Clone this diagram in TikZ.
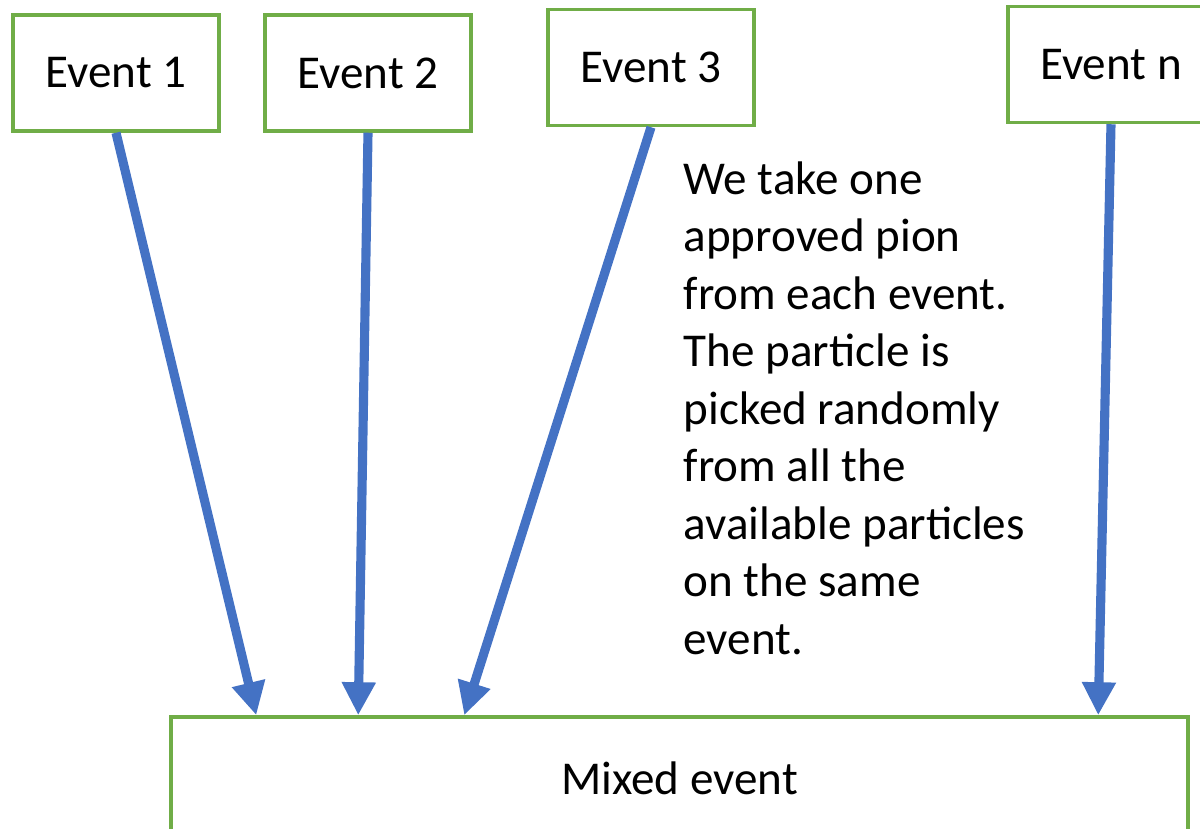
\documentclass[tikz,border=0pt]{standalone}
\usepackage{fontspec}
\setmainfont{Carlito}
\usepackage{xcolor}
\usetikzlibrary{arrows.meta}

\definecolor{boxgreen}{HTML}{70AD47}
\definecolor{arrowblue}{HTML}{4472C4}

\begin{document}
\begin{tikzpicture}[
    evbox/.style={draw=boxgreen, line width=1pt, fill=white, minimum width=2.06cm, minimum height=1.16cm, inner sep=0pt, font=\fontsize{13.4}{16}\selectfont},
    pick/.style={draw=arrowblue, line width=2.6pt, -{Triangle[length=3.3mm, width=3.2mm]}}
  ]
    \useasboundingbox (0, 0) rectangle (12, 8.29);
    \node[evbox](e1) at (1.16, 7.56) {Event 1};
    \node[evbox](e2) at (3.68, 7.56) {Event 2};
    \node[evbox](e3) at (6.51, 7.615) {Event 3};
    \node[evbox](en) at (11.11, 7.645) {Event n};
    \node[evbox, minimum width=10.17cm, minimum height=1.22cm](mix) at (6.795, 0.51) {Mixed event};
    \node[anchor=north west, inner sep=0pt, align=left, font=\fontsize{13.4}{16.35}\selectfont](note) at (6.83, 6.68) {We take one\\approved pion\\from each event.\\The particle is\\picked randomly\\from all the\\available particles\\on the same\\event.};
    \draw[pick] (e1.south)--([xshift=0.87cm]mix.north west);
    \draw[pick] (e2.south)--([xshift=1.89cm]mix.north west);
    \draw[pick] (e3.south)--([xshift=2.95cm]mix.north west);
    \draw[pick] (en.south)--([xshift=9.29cm]mix.north west);
  \end{tikzpicture}
\end{document}
